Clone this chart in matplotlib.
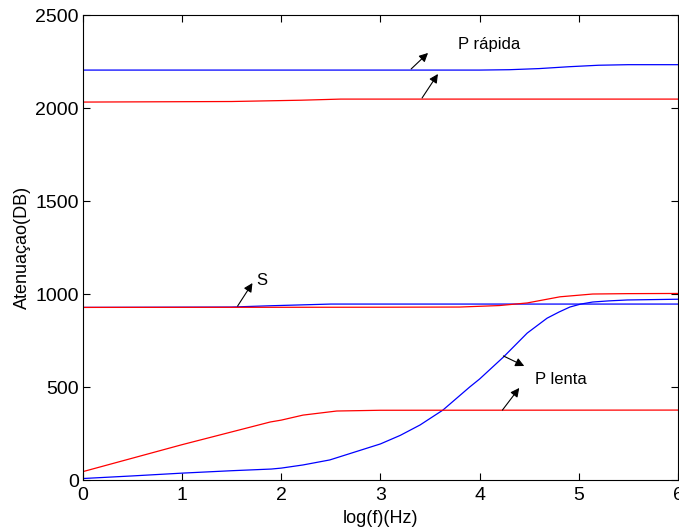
import matplotlib
matplotlib.use('Agg')
import matplotlib.pyplot as plt

plt.rcParams['font.family'] = ['Liberation Sans', 'DejaVu Sans']

# onda P rapida
x_pr_az = [0, 4.0, 4.3, 4.6, 4.9, 5.2, 5.5, 6]
y_pr_az = [2204, 2204, 2206, 2212, 2222, 2230, 2233, 2233]
x_pr_vm = [0, 1.5, 2.2, 2.6, 6]
y_pr_vm = [2032, 2035, 2042, 2048, 2048]

# onda S
x_s_az = [0, 1.5, 1.9, 2.5, 3, 6]
y_s_az = [928, 930, 937, 946, 946, 946]
x_s_vm = [0, 3, 3.8, 4.2, 4.48, 4.81, 5.14, 5.49, 6]
y_s_vm = [928, 929, 930, 938, 952, 985, 1000, 1002, 1003]

# onda P lenta
x_pl_az = [0, 0.5, 1, 1.5, 1.9, 2.0, 2.22, 2.49, 3.0, 3.2, 3.4, 3.63, 3.9, 4.0,
           4.24, 4.48, 4.68, 4.8, 4.91, 5.02, 5.14, 5.3, 5.49, 6]
y_pl_az = [8, 22, 37, 50, 59, 64, 81, 108, 194, 240, 296, 376, 500, 543,
           661, 790, 870, 903, 930, 946, 957, 963, 968, 972]
x_pl_vm = [0, 1, 1.89, 2.0, 2.22, 2.56, 3, 6]
y_pl_vm = [45, 190, 312, 322, 349, 371, 375, 376]

fig = plt.figure(figsize=(6.79, 5.29), dpi=100)
ax = fig.add_axes([0.122, 0.0926, 0.8765, 0.879])

lw = 0.9
ax.plot(x_pr_az, y_pr_az, color='b', lw=lw)
ax.plot(x_pr_vm, y_pr_vm, color='r', lw=lw)
ax.plot(x_s_az, y_s_az, color='b', lw=lw)
ax.plot(x_s_vm, y_s_vm, color='r', lw=lw)
ax.plot(x_pl_az, y_pl_az, color='b', lw=lw)
ax.plot(x_pl_vm, y_pl_vm, color='r', lw=lw)

seta = dict(arrowstyle='-|>', color='k', lw=0.8, mutation_scale=13,
            shrinkA=0, shrinkB=0)
ax.annotate('', xy=(3.48, 2296), xytext=(3.31, 2210), arrowprops=seta)
ax.annotate('', xy=(3.58, 2183), xytext=(3.42, 2054), arrowprops=seta)
ax.text(3.78, 2344, 'P rápida', fontsize=12, va='center')

ax.annotate('', xy=(1.71, 1059), xytext=(1.56, 935), arrowprops=seta)
ax.text(1.75, 1070, 'S', fontsize=12, va='center')

ax.annotate('', xy=(4.45, 613), xytext=(4.24, 667), arrowprops=seta)
ax.annotate('', xy=(4.40, 495), xytext=(4.23, 376), arrowprops=seta)
ax.text(4.56, 543, 'P lenta', fontsize=12, va='center')

ax.set_xlim(0, 6)
ax.set_ylim(0, 2500)
ax.set_xticks(range(7))
ax.set_yticks(range(0, 2501, 500))
ax.tick_params(direction='in', top=True, right=True, labelsize=14, length=5, pad=3)
ax.tick_params(axis='x', pad=5)
ax.set_xlabel('log(f)(Hz)', fontsize=13, labelpad=4)
ax.set_ylabel('Atenuaçao(DB)', fontsize=13, labelpad=3)

fig.savefig('out.png', dpi=100)
